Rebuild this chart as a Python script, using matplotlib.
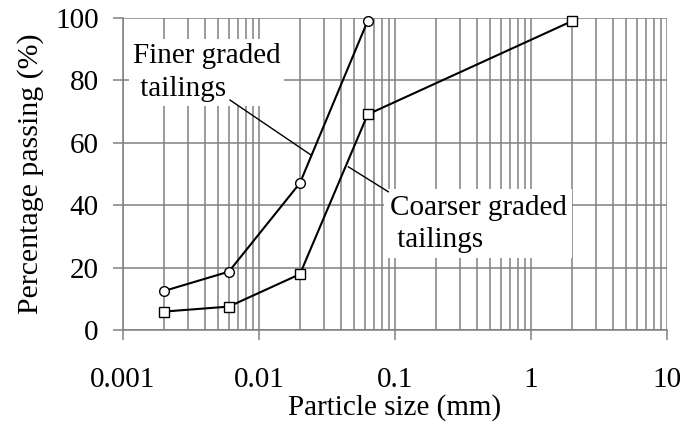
import matplotlib
matplotlib.use("Agg")
import matplotlib.pyplot as plt
from matplotlib.ticker import LogLocator, FixedLocator, NullFormatter

plt.rcParams['font.family'] = ['Liberation Serif', 'DejaVu Serif']

# Data
finer_size = [0.002, 0.006, 0.02, 0.063]
finer_pass = [12.5, 18.7, 47.1, 99.1]
coarse_size = [0.002, 0.006, 0.02, 0.063, 2.0]
coarse_pass = [5.9, 7.5, 17.9, 69.1, 99.0]
xticks = [0.001, 0.01, 0.1, 1, 10]
xticklabels = ['0.001', '0.01', '0.1', '1', '10']
yticks = [0, 20, 40, 60, 80, 100]

fig = plt.figure(figsize=(6.83, 4.30), dpi=100)
ax = fig.add_axes([123/683, 1 - 330/430, (667-123)/683, (330-18)/430])

gc = '#808080'
ax.set_xscale('log')
ax.set_xlim(0.001, 10)
ax.set_ylim(0, 100)
ax.xaxis.set_major_locator(FixedLocator(xticks))
ax.set_xticklabels(xticklabels)
ax.xaxis.set_minor_locator(LogLocator(base=10, subs=range(2, 10), numticks=50))
ax.xaxis.set_minor_formatter(NullFormatter())
ax.set_yticks(yticks)

ax.grid(True, which='major', axis='both', color=gc, lw=1.1, zorder=0)
ax.grid(True, which='minor', axis='x', color=gc, lw=1.1, zorder=0)
ax.set_axisbelow(True)
for s in ax.spines.values():
    s.set_color(gc)
    s.set_linewidth(1.1)
ax.spines['top'].set_visible(False)
ax.spines['right'].set_visible(False)
ax.tick_params(which='major', direction='out', length=7.5, width=1.1, color=gc,
               labelsize=21)
ax.tick_params(which='minor', length=0)
ax.tick_params(axis='x', pad=19)
ax.tick_params(axis='y', pad=10)

ax.plot(finer_size, finer_pass, '-', color='black', lw=1.5, marker='o', ms=7,
        mfc='white', mec='black', mew=1.0, zorder=4, clip_on=False)
ax.plot(coarse_size, coarse_pass, '-', color='black', lw=1.5, marker='s', ms=7.5,
        mfc='white', mec='black', mew=1.0, zorder=4, clip_on=False)

ax.set_xlabel('Particle size (mm)', fontsize=21, labelpad=1)
ax.set_ylabel('Percentage passing (%)', fontsize=21.5, labelpad=8)

# Annotations
ax.text(0.00118, 82.5, 'Finer graded\n tailings', fontsize=21, ha='left', va='center',
        linespacing=1.35, zorder=3,
        bbox=dict(facecolor='white', edgecolor='none', pad=3))
ax.plot([0.00612, 0.0241], [73.7, 56.1], color='black', lw=1.0, zorder=3)

ax.text(0.0918, 34.1, 'Coarser graded\n tailings', fontsize=21, ha='left', va='center',
        linespacing=1.3, zorder=3,
        bbox=dict(facecolor='white', edgecolor='none', pad=4))
ax.plot([0.0454, 0.0893], [52.3, 44.3], color='black', lw=1.0, zorder=3)

fig.savefig('out.png', dpi=100)
